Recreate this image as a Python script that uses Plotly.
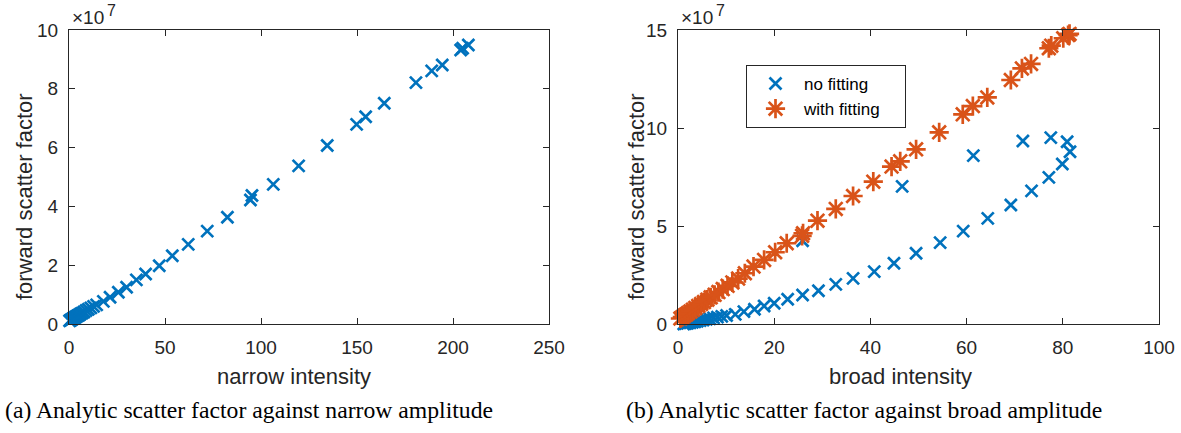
import plotly.graph_objects as go

# ---------------- data (forward scatter factor in units of 1e7) ----------------
narrow_intensity = [0.3, 0.8, 1.3, 1.9, 2.5, 3.1, 3.7, 4.4, 5.1, 5.9, 6.8, 7.8, 8.9, 10.1, 11.4,
                    12.8, 14.4, 17.9, 21.4, 25.7, 30.0, 35.1, 39.9, 47.0, 53.8, 62.1, 72.0, 82.5,
                    94.5, 95.3, 106.4, 119.6, 134.5, 149.8, 154.5, 164.2, 180.7, 188.9, 194.4,
                    204.0, 205.0, 208.0]
narrow_fsf = [0.11, 0.13, 0.15, 0.18, 0.20, 0.22, 0.25, 0.28, 0.30, 0.34, 0.37, 0.41, 0.46, 0.50, 0.55,
              0.60, 0.65, 0.77, 0.91, 1.08, 1.25, 1.50, 1.70, 1.98, 2.32, 2.71, 3.16, 3.63,
              4.22, 4.37, 4.75, 5.38, 6.07, 6.79, 7.05, 7.51, 8.21, 8.61, 8.81,
              9.32, 9.38, 9.49]

broad_intensity_nofit = [1.2, 1.6, 2.0, 2.5, 3.0, 3.5, 4.0, 4.6, 5.2, 5.9, 6.6, 7.4, 8.2, 9.1, 10.1,
                         11.9, 13.7, 15.9, 17.9, 20.0, 22.8, 25.9, 29.2, 32.8, 36.4, 40.8, 44.9,
                         49.5, 54.5, 59.3, 64.4, 69.2, 73.5, 77.1, 79.9, 81.5, 80.9, 77.5, 71.7,
                         61.4, 46.6, 25.9]
broad_fsf_nofit = [0.00, 0.02, 0.04, 0.06, 0.09, 0.11, 0.14, 0.17, 0.20, 0.24, 0.27, 0.31, 0.35, 0.39, 0.43,
                   0.49, 0.63, 0.75, 0.92, 1.06, 1.26, 1.48, 1.70, 2.02, 2.33, 2.67, 3.10,
                   3.61, 4.15, 4.74, 5.39, 6.07, 6.79, 7.48, 8.16, 8.79, 9.30, 9.51, 9.34,
                   8.59, 7.02, 4.25]

broad_intensity_fit = [0.5, 0.9, 1.3, 1.7, 2.1, 2.6, 3.1, 3.6, 4.2, 4.8, 5.4, 6.1, 6.8, 7.6, 8.4,
                       9.3, 10.3, 11.3, 12.5, 13.9, 15.7, 17.9, 20.2, 22.6, 25.8, 26.0, 29.0,
                       32.8, 36.4, 40.6, 44.4, 46.2, 49.5, 54.3, 59.2, 61.3, 64.3, 69.2, 71.5,
                       73.4, 77.1, 77.6, 80.1, 81.1, 81.4]
broad_fsf_fit = [0.28, 0.35, 0.42, 0.49, 0.56, 0.64, 0.73, 0.82, 0.92, 1.02, 1.12, 1.24, 1.36, 1.49, 1.63,
                 1.78, 1.95, 2.12, 2.32, 2.59, 2.93, 3.27, 3.66, 4.12, 4.50, 4.63, 5.27,
                 5.87, 6.53, 7.26, 8.03, 8.30, 8.91, 9.78, 10.70, 11.12, 11.56, 12.45, 13.04,
                 13.27, 14.07, 14.20, 14.58, 14.74, 14.80]

left_xticks = [0, 50, 100, 150, 200, 250]
left_yticks = [0, 2, 4, 6, 8, 10]
right_xticks = [0, 20, 40, 60, 80, 100]
right_yticks = [0, 5, 10, 15]

series_names = ["no fitting", "with fitting"]
captions = ["(a) Analytic scatter factor against narrow amplitude",
            "(b) Analytic scatter factor against broad amplitude"]

# ---------------- styling ----------------
W, H = 1181, 433
BLUE = "#0072BD"
ORANGE = "#D95319"
AX = "#262626"
SANS = "Liberation Sans, Arial, sans-serif"
SERIF = "Liberation Serif, Times New Roman, serif"
PAD = "\u00a0" * 4  # extra room at the right of the legend box


def fx(px):
    return px / W


def fy(py):
    return 1 - py / H


fig = go.Figure()

fig.add_trace(go.Scatter(
    x=narrow_intensity, y=narrow_fsf, mode="markers", xaxis="x", yaxis="y",
    showlegend=False, cliponaxis=False,
    marker=dict(symbol="x-thin", size=12, color=BLUE, line=dict(color=BLUE, width=2.7))))

fig.add_trace(go.Scatter(
    x=broad_intensity_nofit, y=broad_fsf_nofit, mode="markers", xaxis="x2", yaxis="y2",
    name=series_names[0] + PAD, cliponaxis=False,
    marker=dict(symbol="x-thin", size=12, color=BLUE, line=dict(color=BLUE, width=2.7))))

fig.add_trace(go.Scatter(
    x=broad_intensity_fit, y=broad_fsf_fit, mode="markers", xaxis="x2", yaxis="y2",
    name=series_names[1] + PAD, cliponaxis=False,
    marker=dict(symbol="asterisk", size=16, color=ORANGE, line=dict(color=ORANGE, width=2.7))))

axis_common = dict(
    showline=True, linecolor=AX, linewidth=1, mirror="ticks",
    ticks="inside", ticklen=6, tickcolor=AX, tickwidth=1,
    showgrid=False, zeroline=False, automargin=False,
    tickfont=dict(family=SANS, size=19, color=AX),
)

fig.update_layout(
    width=W, height=H,
    margin=dict(l=0, r=0, t=0, b=0, autoexpand=False),
    paper_bgcolor="white", plot_bgcolor="white",
    xaxis=dict(domain=[fx(69), fx(549)], range=[0, 250], tickvals=left_xticks,
               anchor="y", ticklabelstandoff=6, **axis_common),
    yaxis=dict(domain=[fy(324), fy(30)], range=[0, 10], tickvals=left_yticks,
               anchor="x", ticklabelstandoff=6, **axis_common),
    xaxis2=dict(domain=[fx(678), fx(1159)], range=[0, 100], tickvals=right_xticks,
                anchor="y2", ticklabelstandoff=6, **axis_common),
    yaxis2=dict(domain=[fy(324), fy(30)], range=[0, 15], tickvals=right_yticks,
                anchor="x2", ticklabelstandoff=6, **axis_common),
    legend=dict(x=fx(746), y=fy(65), xanchor="left", yanchor="top",
                bordercolor=AX, borderwidth=1, bgcolor="white", itemwidth=47,
                font=dict(family=SANS, size=17, color="black")),
)

ann = []
# axis titles
for cx, txt in [(294, "narrow intensity"), (900, "broad intensity")]:
    ann.append(dict(x=fx(cx), y=fy(376), xref="paper", yref="paper", text=txt,
                    showarrow=False, xanchor="center", yanchor="middle",
                    font=dict(family=SANS, size=22, color=AX)))
for cx in [24, 636]:
    ann.append(dict(x=fx(cx), y=fy(197), xref="paper", yref="paper",
                    text="forward scatter factor", textangle=-90,
                    showarrow=False, xanchor="center", yanchor="middle",
                    font=dict(family=SANS, size=22, color=AX)))
# exponent labels (×10 and raised 7)
for lx in [70, 679]:
    ann.append(dict(x=fx(lx), y=fy(18), xref="paper", yref="paper",
                    text="×10", showarrow=False,
                    xanchor="left", yanchor="middle",
                    font=dict(family=SANS, size=19, color=AX)))
    ann.append(dict(x=fx(lx + 35), y=fy(11), xref="paper", yref="paper",
                    text="7", showarrow=False,
                    xanchor="left", yanchor="middle",
                    font=dict(family=SANS, size=16, color=AX)))
# captions
for cx, txt in [(249, captions[0]), (864, captions[1])]:
    ann.append(dict(x=fx(cx), y=fy(410), xref="paper", yref="paper", text=txt,
                    showarrow=False, xanchor="center", yanchor="middle",
                    font=dict(family=SERIF, size=23.7, color="black")))
fig.update_layout(annotations=ann)

fig.write_html("out.html", config={"displayModeBar": False},
               post_script="document.body.style.margin='0';")
